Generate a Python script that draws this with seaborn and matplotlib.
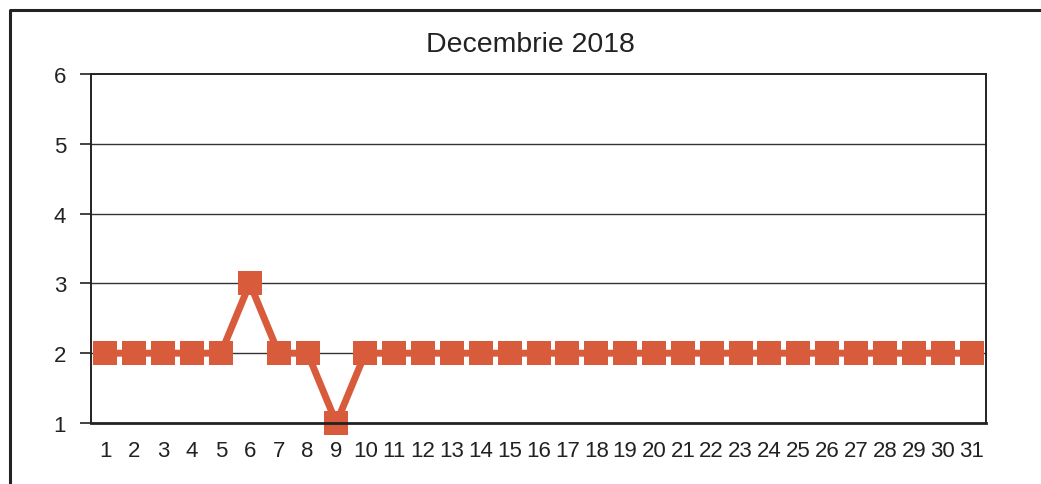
import seaborn as sns
import matplotlib.pyplot as plt
import pandas as pd
from matplotlib.lines import Line2D

# values
days = list(range(1, 32))
values = [2, 2, 2, 2, 2, 3, 2, 2, 1, 2,
          2, 2, 2, 2, 2, 2, 2, 2, 2, 2,
          2, 2, 2, 2, 2, 2, 2, 2, 2, 2, 2]
title = "Decembrie 2018"

df = pd.DataFrame({"zi": days, "valoare": values})

sns.set_style("white")
plt.rcParams["font.family"] = ["Liberation Sans", "DejaVu Sans"]

fig = plt.figure(figsize=(10.41, 4.85), dpi=100)
ax = fig.add_axes([91 / 1041, 1 - 424 / 485, (986 - 91) / 1041, (424 - 75) / 485])

color = "#D85B3C"
sns.lineplot(x="zi", y="valoare", data=df, ax=ax, color=color, linewidth=5,
             marker="s", markersize=17.5, markeredgewidth=0, markerfacecolor=color)

ax.set_xlim(0.5, 31.5)
ax.set_ylim(1, 6)
ax.set_xlabel("")
ax.set_ylabel("")

# labels in the middle of each category, tick marks between them
ax.set_xticks(days)
ax.set_xticklabels([str(d) for d in days])
ax.tick_params(axis="x", which="major", length=0, pad=12, labelsize=16, labelcolor="#222222")
ax.set_xticks([d + 0.5 for d in range(0, 32)], minor=True)
ax.tick_params(axis="x", which="minor", length=6, width=1.2, color="#222222", direction="out")

ax.set_yticks([1, 2, 3, 4, 5, 6])
ax.tick_params(axis="y", length=8, width=1.2, color="#222222", pad=10, labelsize=16,
               labelcolor="#222222", left=True)

for y in [2, 3, 4, 5]:
    ax.axhline(y, color="#333333", linewidth=1.0, zorder=0)

for side in ["left", "bottom", "top", "right"]:
    ax.spines[side].set_visible(True)
    ax.spines[side].set_color("#222222")
    ax.spines[side].set_linewidth(1.4)
ax.spines["bottom"].set_linewidth(2)

for m in ax.lines:
    m.set_clip_on(False)

fig.text(530 / 1041, 1 - 45 / 485, title, ha="center", va="center", fontsize=20.5, color="#222222")

# outer chart frame
fig.add_artist(Line2D([10 / 1041, 10 / 1041, 1.0], [0.0, 1 - 11 / 485, 1 - 11 / 485],
                      transform=fig.transFigure, color="#222222", linewidth=2.2))

plt.savefig("out.png", dpi=100)
